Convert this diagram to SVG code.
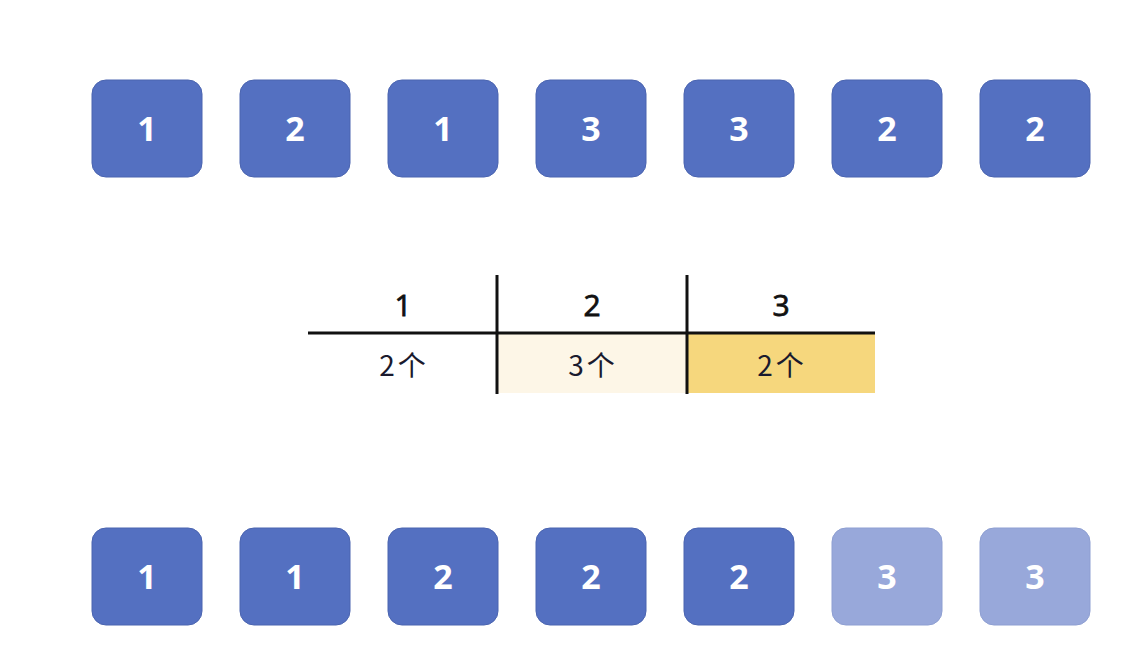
<svg xmlns="http://www.w3.org/2000/svg" width="1142" height="666" viewBox="0 0 1142 666">
<style>
.box{fill:#5470c1;stroke:#4a64b0;stroke-width:1}
.lite{fill:#98a8da;stroke:#8e9fd2;stroke-width:1}
.num{font-family:"Open Sans","Liberation Sans",sans-serif;font-weight:bold;font-size:34px;fill:#fff;text-anchor:middle}
.hd{font-family:"Open Sans","Liberation Sans",sans-serif;font-size:30px;fill:#111;stroke:#111;stroke-width:0.8;text-anchor:middle}
.cnt{font-family:"Noto Sans CJK SC",sans-serif;font-size:28px;fill:#1a1a2e;letter-spacing:3px;text-anchor:middle}
.ln{stroke:#111;stroke-width:3}
</style>
<rect width="1142" height="666" fill="#fff"/>
<g id="top">
<g id="t1"><rect class="box" x="92" y="80" width="110" height="97" rx="14"/><text class="num" x="147" y="141">1</text></g>
<g id="t2"><rect class="box" x="240" y="80" width="110" height="97" rx="14"/><text class="num" x="295" y="141">2</text></g>
<g id="t3"><rect class="box" x="388" y="80" width="110" height="97" rx="14"/><text class="num" x="443" y="141">1</text></g>
<g id="t4"><rect class="box" x="536" y="80" width="110" height="97" rx="14"/><text class="num" x="591" y="141">3</text></g>
<g id="t5"><rect class="box" x="684" y="80" width="110" height="97" rx="14"/><text class="num" x="739" y="141">3</text></g>
<g id="t6"><rect class="box" x="832" y="80" width="110" height="97" rx="14"/><text class="num" x="887" y="141">2</text></g>
<g id="t7"><rect class="box" x="980" y="80" width="110" height="97" rx="14"/><text class="num" x="1035" y="141">2</text></g>
</g>
<g id="table">
<rect x="498" y="334" width="189" height="59" fill="#fdf6e7"/>
<rect x="688" y="334" width="187" height="59" fill="#f6d77d"/>
<line class="ln" x1="308" y1="333" x2="875" y2="333"/>
<line class="ln" x1="497" y1="275" x2="497" y2="394"/>
<line class="ln" x1="687" y1="275" x2="687" y2="394"/>
<text class="hd" x="403" y="316">1</text>
<text class="hd" x="592" y="316">2</text>
<text class="hd" x="781" y="316">3</text>
<text class="cnt" x="404" y="376">2个</text>
<text class="cnt" x="593" y="376">3个</text>
<text class="cnt" x="782" y="376">2个</text>
</g>
<g id="bottom">
<g id="b1"><rect class="box" x="92" y="528" width="110" height="97" rx="14"/><text class="num" x="147" y="589">1</text></g>
<g id="b2"><rect class="box" x="240" y="528" width="110" height="97" rx="14"/><text class="num" x="295" y="589">1</text></g>
<g id="b3"><rect class="box" x="388" y="528" width="110" height="97" rx="14"/><text class="num" x="443" y="589">2</text></g>
<g id="b4"><rect class="box" x="536" y="528" width="110" height="97" rx="14"/><text class="num" x="591" y="589">2</text></g>
<g id="b5"><rect class="box" x="684" y="528" width="110" height="97" rx="14"/><text class="num" x="739" y="589">2</text></g>
<g id="b6"><rect class="lite" x="832" y="528" width="110" height="97" rx="14"/><text class="num" x="887" y="589">3</text></g>
<g id="b7"><rect class="lite" x="980" y="528" width="110" height="97" rx="14"/><text class="num" x="1035" y="589">3</text></g>
</g>
<g id="connectors"/>
</svg>
